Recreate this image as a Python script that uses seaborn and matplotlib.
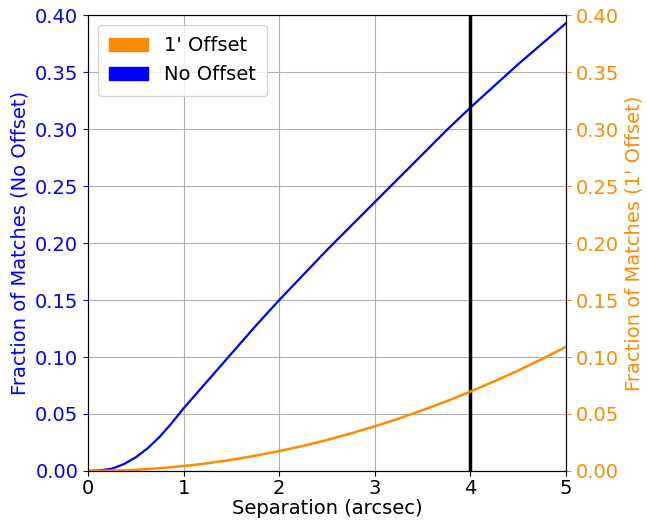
import pandas as pd
import matplotlib.pyplot as plt
import matplotlib.patches as mpatches
import seaborn as sns

# Values
separation = [0.0, 0.125, 0.25, 0.375, 0.5, 0.625, 0.75, 0.875, 1.0, 1.125, 1.25, 1.5, 1.75,
              2.0, 2.25, 2.5, 2.75, 3.0, 3.25, 3.5, 3.75, 4.0, 4.25, 4.5, 4.75, 5.0]
no_offset = [0.0, 0.0005, 0.002, 0.006, 0.012, 0.020, 0.030, 0.042, 0.055, 0.067, 0.079, 0.103,
             0.127, 0.150, 0.172, 0.194, 0.215, 0.236, 0.257, 0.278, 0.299, 0.319, 0.338, 0.357,
             0.375, 0.393]
one_offset = [0.0, 0.0001, 0.0003, 0.0006, 0.001, 0.0017, 0.0025, 0.0034, 0.0044, 0.0055, 0.0068,
              0.0098, 0.0134, 0.0175, 0.022, 0.0272, 0.033, 0.0392, 0.046, 0.0534, 0.0612, 0.0697,
              0.0787, 0.0882, 0.0983, 0.109]
yticks = [0.00, 0.05, 0.10, 0.15, 0.20, 0.25, 0.30, 0.35, 0.40]
cut = 4.0

df = pd.DataFrame({'sep': separation, 'none': no_offset, 'one': one_offset})

sns.set_style("ticks")
plt.rcParams['font.family'] = ['DejaVu Sans']
plt.rcParams['font.size'] = 14
plt.rcParams['text.color'] = 'black'
plt.rcParams['axes.labelcolor'] = 'black'
plt.rcParams['xtick.color'] = 'black'
plt.rcParams['ytick.color'] = 'black'

fig = plt.figure(figsize=(6.47, 5.21), dpi=100)
ax = fig.add_axes([0.136, 0.096, 0.739, 0.875])
ax2 = ax.twinx()

sns.lineplot(data=df, x='sep', y='none', ax=ax, color='blue', linewidth=1.6)
sns.lineplot(data=df, x='sep', y='one', ax=ax2, color='darkorange', linewidth=1.8)
ax.axvline(cut, color='black', linewidth=2.5, zorder=5)

for a in (ax, ax2):
    a.set_xlim(0, 5)
    a.set_ylim(0, 0.40)
    a.set_yticks(yticks)
    a.set_yticklabels([f'{v:.2f}' for v in yticks])
ax.set_xticks([0, 1, 2, 3, 4, 5])
ax.grid(True, color='#b0b0b0', linewidth=0.8)

ax.set_xlabel('Separation (arcsec)', fontsize=14, labelpad=1)
ax.set_ylabel('Fraction of Matches (No Offset)', color='blue', fontsize=14)
ax2.set_ylabel("Fraction of Matches (1' Offset)", color='darkorange', fontsize=14)
ax.tick_params(axis='y', colors='blue', labelsize=14)
ax.tick_params(axis='x', labelsize=14, pad=2)
ax2.tick_params(axis='y', colors='darkorange', labelsize=14)
for a in (ax, ax2):
    for s in a.spines.values():
        s.set_color('black')

handles = [mpatches.Patch(color='darkorange', label="1' Offset"),
           mpatches.Patch(color='blue', label='No Offset')]
ax2.legend(handles=handles, loc='upper left', fontsize=14, borderpad=0.6)

fig.savefig('out.png', dpi=100)
